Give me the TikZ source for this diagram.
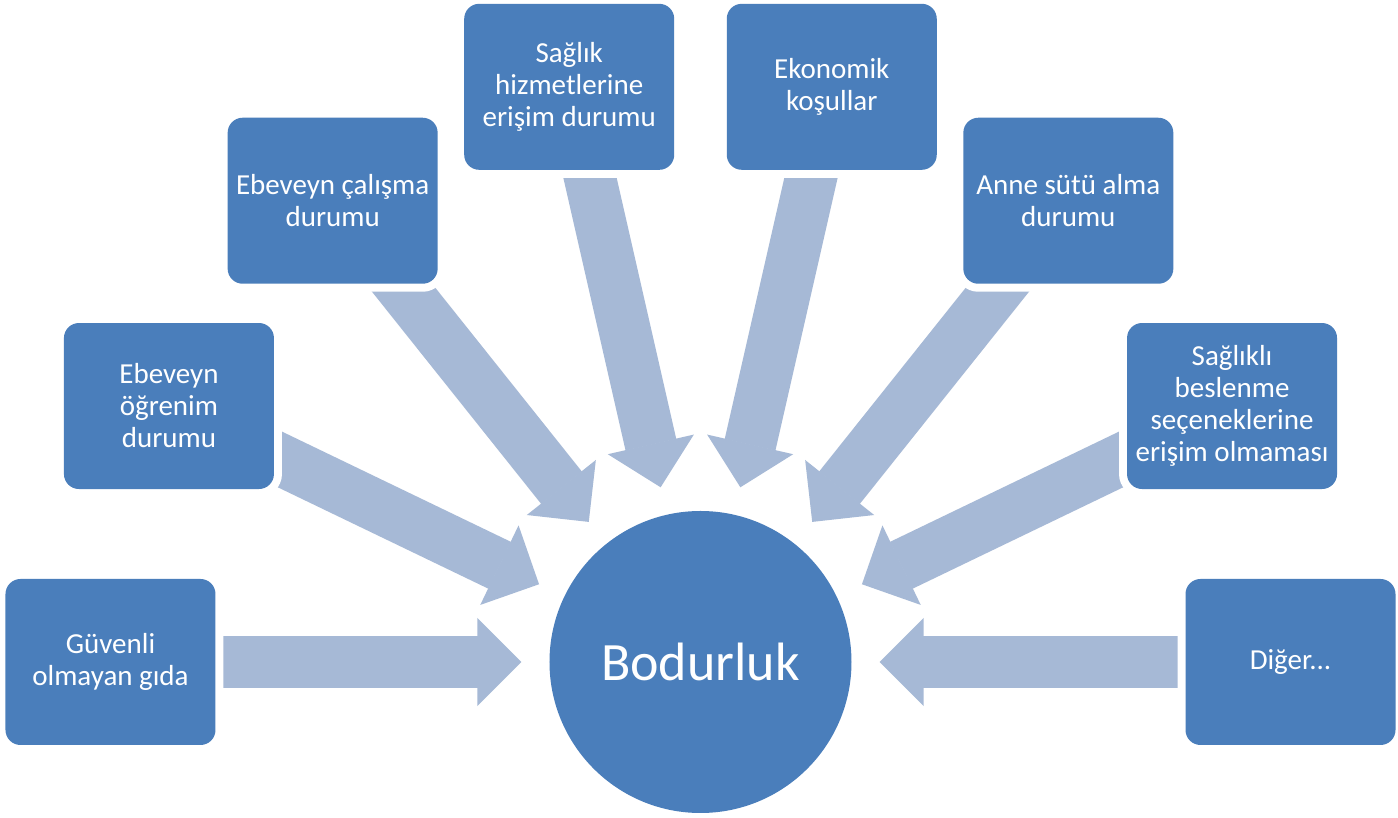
\documentclass[tikz,border=0pt]{standalone}
\usepackage{fontspec}
\setmainfont{Carlito}
\usetikzlibrary{arrows.meta,backgrounds}
\definecolor{boxblue}{RGB}{74,126,187}
\definecolor{arrowblue}{RGB}{166,185,214}
\begin{document}
\begin{tikzpicture}[x=1pt,y=1pt,
  factor/.style={rectangle, rounded corners=15pt, fill=boxblue, text=white,
    minimum width=210pt, minimum height=166pt, inner sep=0pt, align=center,
    font=\fontsize{29}{32}\selectfont,
    preaction={draw=white, line width=16pt}},
  hub/.style={circle, fill=boxblue, text=white, minimum size=302pt,
    inner sep=0pt, font=\fontsize{54}{60}\selectfont},
  bigarrow/.style={draw=arrowblue, line width=52pt, line cap=butt,
    shorten >=28pt,
    -{Triangle[length=44pt,width=88pt,line width=1.5pt,fill=arrowblue,color=arrowblue]}}
]
\useasboundingbox (-700.5,-156) rectangle (697.5,662);

\node[hub] (hub) at (0,0) {Bodurluk};

\node[factor] (b1) at (180:590) {Güvenli\\olmayan gıda};
\node[factor] (b2) at ({180-180/7}:590) {Ebeveyn\\öğrenim\\durumu};
\node[factor] (b3) at ({180-2*180/7}:590) {Ebeveyn çalışma\\durumu};
\node[factor] (b4) at ({180-3*180/7}:590) {Sağlık\\hizmetlerine\\erişim durumu};
\node[factor] (b5) at ({180-4*180/7}:590) {Ekonomik\\koşullar};
\node[factor] (b6) at ({180-5*180/7}:590) {Anne sütü alma\\durumu};
\node[factor] (b7) at ({180-6*180/7}:590) {Sağlıklı\\beslenme\\seçeneklerine\\erişim olmaması};
\node[factor] (b8) at (0:590) {Diğer...};

\begin{pgfonlayer}{background}
  \fill[white] (-700.5,-156) rectangle (697.5,662);
  \foreach \i in {1,...,8} {
    \draw[bigarrow] (b\i.center) -- (hub);
  }
\end{pgfonlayer}
\end{tikzpicture}
\end{document}
